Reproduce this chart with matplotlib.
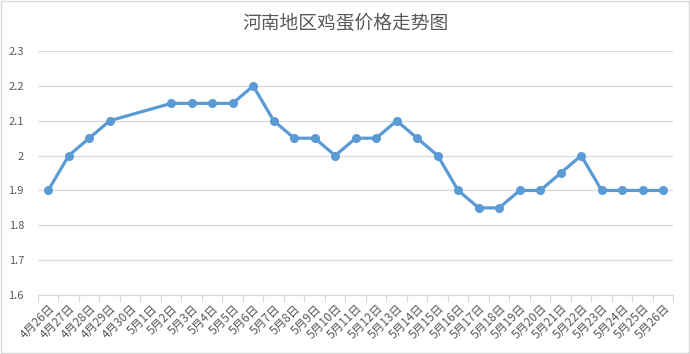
import numpy as np
import matplotlib
matplotlib.use('Agg')
import matplotlib.pyplot as plt
from matplotlib.patches import Rectangle

plt.rcParams['font.family'] = ['Noto Sans CJK SC', 'DejaVu Sans']

dates = ['4月26日', '4月27日', '4月28日', '4月29日', '4月30日', '5月1日', '5月2日',
         '5月3日', '5月4日', '5月5日', '5月6日', '5月7日', '5月8日', '5月9日',
         '5月10日', '5月11日', '5月12日', '5月13日', '5月14日', '5月15日', '5月16日',
         '5月17日', '5月18日', '5月19日', '5月20日', '5月21日', '5月22日', '5月23日',
         '5月24日', '5月25日', '5月26日']
# no price for 4/30 and 5/1
prices = [1.9, 2.0, 2.05, 2.1, None, None, 2.15,
          2.15, 2.15, 2.15, 2.2, 2.1, 2.05, 2.05,
          2.0, 2.05, 2.05, 2.1, 2.05, 2.0, 1.9,
          1.85, 1.85, 1.9, 1.9, 1.95, 2.0, 1.9,
          1.9, 1.9, 1.9]

xs = [i for i, p in enumerate(prices) if p is not None]
ys = [p for p in prices if p is not None]

fig = plt.figure(figsize=(6.9, 3.54), dpi=100)
ax = fig.add_axes([0.055, 0.1667, 0.921, 0.689])

ax.plot(xs, ys, color='#5B9BD5', linewidth=2.3, marker='o', markersize=5.5,
        markerfacecolor='#5B9BD5', markeredgecolor='#5B9BD5', zorder=3)

ax.set_xlim(-0.5, len(dates) - 0.5)
ax.set_ylim(1.6, 2.3)
ax.set_yticks(np.arange(1.6, 2.31, 0.1))
ax.set_yticklabels(['1.6', '1.7', '1.8', '1.9', '2', '2.1', '2.2', '2.3'])
ax.grid(axis='y', color='#D9D9D9', linewidth=0.9, zorder=0)

ax.set_xticks(range(len(dates)))
ax.set_xticklabels(dates, rotation=45, ha='right', rotation_mode='anchor')
ax.set_xticks(np.arange(-0.5, len(dates)), minor=True)
ax.tick_params(axis='x', which='major', length=0, pad=5, labelsize=8.5, labelcolor='#595959')
ax.tick_params(axis='x', which='minor', length=5, color='#D9D9D9', width=0.9)
ax.tick_params(axis='y', length=0, labelsize=8, labelcolor='#595959', pad=10)

for s in ['top', 'right', 'left']:
    ax.spines[s].set_visible(False)
ax.spines['bottom'].set_color('#D9D9D9')
ax.spines['bottom'].set_linewidth(0.9)

fig.text(0.5, 0.935, '河南地区鸡蛋价格走势图', ha='center', va='center',
         fontsize=13.5, color='#595959')

fig.patches.append(Rectangle((0.002, 0.003), 0.996, 0.994, transform=fig.transFigure,
                             fill=False, edgecolor='#D9D9D9', linewidth=1))

fig.savefig('out.png', dpi=100)
